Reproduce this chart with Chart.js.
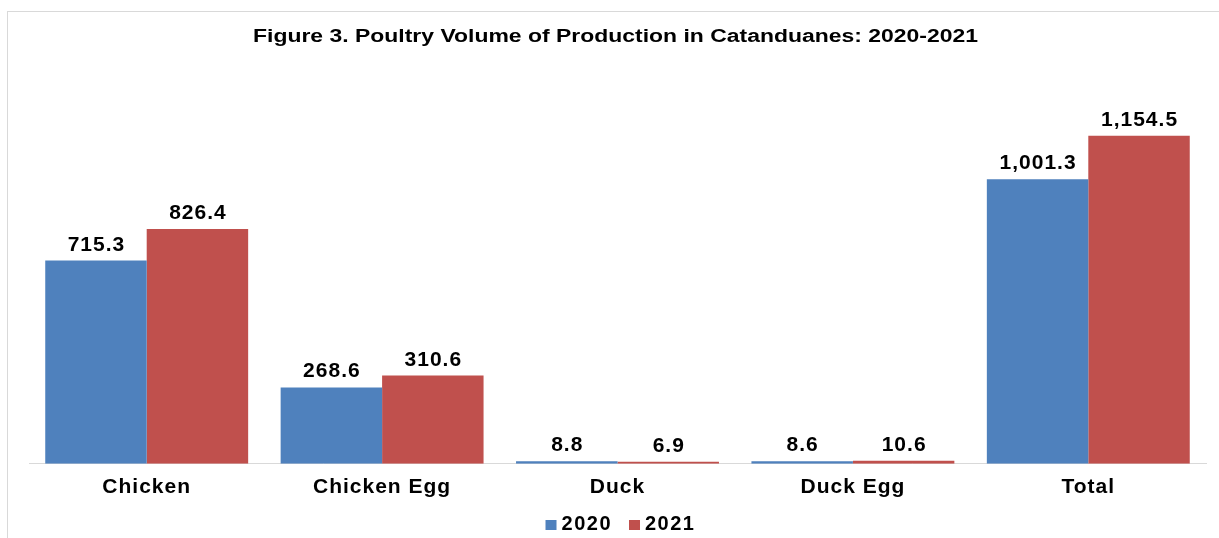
<!DOCTYPE html>
<html>
<head>
<meta charset="utf-8">
<script src="https://cdn.jsdelivr.net/npm/chart.js@4.4.0/dist/chart.umd.min.js"></script>
<style>
  html, body { margin: 0; padding: 0; background: #fff; }
  #wrap { position: relative; width: 1219px; height: 538px; overflow: hidden; }
  #frame { position: absolute; left: 7px; top: 11px; width: 1400px; height: 700px; border: 1px solid #d9d9d9; pointer-events: none; }
  canvas { position: absolute; left: 0; top: 0; }
</style>
</head>
<body>
<div id="wrap">
  <div id="frame"></div>
  <canvas id="c" width="1219" height="538"></canvas>
</div>
<script>
const titleText = "Figure 3. Poultry Volume of Production in Catanduanes: 2020-2021";
const categories = ["Chicken", "Chicken Egg", "Duck", "Duck Egg", "Total"];
const seriesNames = ["2020", "2021"];
const values2020 = [715.3, 268.6, 8.8, 8.6, 1001.3];
const values2021 = [826.4, 310.6, 6.9, 10.6, 1154.5];
const colors = ["#4F81BD", "#C0504D"];

const FONT = "'Liberation Sans', Arial, sans-serif";
const fmt = v => v.toLocaleString("en-US", { minimumFractionDigits: 1, maximumFractionDigits: 1 });

const spacing = {
  id: "spacing",
  beforeUpdate(chart) { chart.ctx.letterSpacing = "1px"; },
  beforeDraw(chart) { chart.ctx.letterSpacing = "1px"; }
};

const decorations = {
  id: "decorations",
  afterDatasetsDraw(chart) {
    const ctx = chart.ctx;
    ctx.save();
    ctx.letterSpacing = "1px";
    ctx.font = "bold 21px " + FONT;
    ctx.fillStyle = "#000";
    ctx.textAlign = "center";
    ctx.textBaseline = "alphabetic";
    chart.data.datasets.forEach((ds, i) => {
      const meta = chart.getDatasetMeta(i);
      meta.data.forEach((bar, j) => {
        ctx.fillText(fmt(ds.data[j]), bar.x + 0.5, bar.y - 10);
      });
    });
    ctx.restore();
  },
  afterDraw(chart) {
    const ctx = chart.ctx;
    const area = chart.chartArea;
    // title (horizontally widened like the reference)
    ctx.save();
    ctx.letterSpacing = "0px";
    ctx.font = "bold 18px " + FONT;
    ctx.fillStyle = "#000";
    ctx.textAlign = "center";
    ctx.textBaseline = "middle";
    const tw = ctx.measureText(titleText).width;
    const sx = 725 / tw;
    ctx.translate(615.5, 37);
    ctx.scale(sx, 1);
    ctx.fillText(titleText, 0, 0);
    ctx.restore();
    // legend
    ctx.save();
    ctx.letterSpacing = "1.5px";
    ctx.font = "bold 20px " + FONT;
    ctx.textBaseline = "middle";
    ctx.textAlign = "left";
    const box = 11, gapText = 5, gapItem = 17;
    const items = chart.data.datasets.map(ds => ({ label: ds.label, color: ds.backgroundColor, w: ctx.measureText(ds.label).width }));
    let total = 0;
    items.forEach((it, k) => { total += box + gapText + it.w + (k < items.length - 1 ? gapItem : 0); });
    let x = (area.left + area.right) / 2 + 3 - total / 2;
    const cy = 524;
    items.forEach(it => {
      ctx.fillStyle = it.color;
      ctx.fillRect(x, 520, box, box - 1);
      x += box + gapText;
      ctx.fillStyle = "#000";
      ctx.fillText(it.label, x, cy);
      x += it.w + gapItem;
    });
    ctx.restore();
  }
};

new Chart(document.getElementById("c"), {
  type: "bar",
  data: {
    labels: categories,
    datasets: [
      { label: seriesNames[0], data: values2020, backgroundColor: colors[0] },
      { label: seriesNames[1], data: values2021, backgroundColor: colors[1] }
    ]
  },
  options: {
    responsive: false,
    animation: false,
    devicePixelRatio: 1,
    layout: { padding: { left: 29, right: 13, top: 66, bottom: 35 } },
    datasets: { bar: { categoryPercentage: 0.862, barPercentage: 1.0 } },
    plugins: {
      title: { display: false },
      legend: { display: false },
      tooltip: { enabled: false }
    },
    scales: {
      x: {
        grid: { display: false },
        border: { display: true, color: "#d9d9d9", width: 1 },
        ticks: {
          color: "#000",
          padding: 3,
          font: { family: FONT, size: 21, weight: "bold" }
        }
      },
      y: {
        display: false,
        min: 0,
        max: 1400
      }
    }
  },
  plugins: [spacing, decorations]
});
</script>
</body>
</html>
